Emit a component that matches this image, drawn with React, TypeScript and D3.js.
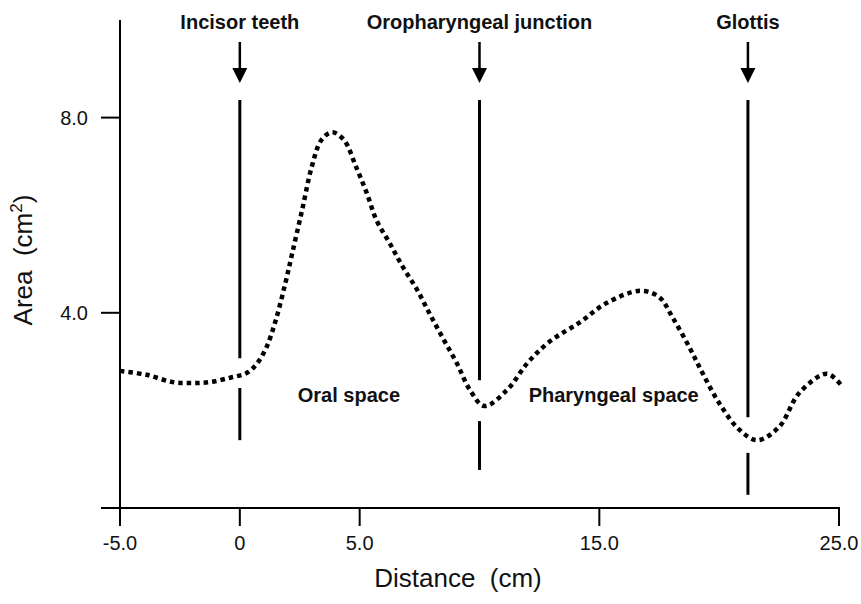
import * as d3 from 'd3';

// area function (distance in cm, area in cm^2)
const distance = [-5.0, -3.9, -2.8, -2.0, -1.25, -0.4, 0.3, 0.7, 1.1, 1.5, 1.9, 2.2, 2.6, 3.0, 3.4, 3.85, 4.35, 4.85, 5.3, 5.7, 6.25, 6.8, 7.4, 7.9, 8.45, 9.05, 9.6, 10.2, 11.15, 12.0, 12.9, 14.2, 15.3, 16.7, 17.5, 18.05, 18.75, 19.3, 20.0, 20.85, 21.6, 22.5, 23.35, 24.5, 25.15];
const area = [2.81, 2.73, 2.58, 2.56, 2.58, 2.67, 2.77, 2.95, 3.28, 3.85, 4.61, 5.25, 6.11, 6.99, 7.54, 7.7, 7.54, 6.99, 6.45, 5.9, 5.43, 4.94, 4.47, 4.0, 3.5, 2.97, 2.42, 2.09, 2.42, 2.97, 3.4, 3.81, 4.2, 4.45, 4.32, 3.91, 3.3, 2.77, 2.15, 1.6, 1.39, 1.66, 2.36, 2.75, 2.48];

const xTicks = [-5, 0, 5, 15, 25];
const xTickLabels = ['-5.0', '0', '5.0', '15.0', '25.0'];
const yTicks = [4, 8];
const yTickLabels = ['4.0', '8.0'];

// landmark lines: position and the two segments (broken where the curve passes)
const markerNames = ['Incisor teeth', 'Oropharyngeal junction', 'Glottis'];
const markerAt = [0, 10, 21.2];
const markerUpper = [[8.36, 3.07], [8.36, 2.62], [8.36, 1.86]];
const markerLower = [[2.46, 1.39], [1.78, 0.78], [1.13, 0.27]];

const regionNames = ['Oral space', 'Pharyngeal space'];
const regionAt = [4.55, 15.6];
const regionLevel = [2.17, 2.17];

const W = 861;
const H = 604;
const FONT = '"Liberation Sans", Arial, Helvetica, sans-serif';

export default function App() {
  const x = d3.scaleLinear().domain([-5, 25]).range([120, 839]);
  const y = d3.scaleLinear().domain([0, 10]).range([508, 20]);

  const points = distance.map((d, i) => [d, area[i]] as [number, number]);
  const line = d3.line<[number, number]>()
    .x(d => x(d[0]))
    .y(d => y(d[1]))
    .curve(d3.curveCatmullRom.alpha(0.5));

  const y0 = y(0);
  const axisW = 2;

  return (
    <svg
      width={W}
      height={H}
      style={{ position: 'absolute', left: 0, top: 0, background: '#fff', fontFamily: FONT }}
    >
      {/* axes */}
      <line x1={x(-5)} x2={x(-5)} y1={y(10)} y2={y0} stroke="#000" strokeWidth={axisW} />
      <line x1={x(-5) - 19} x2={x(25) + 1} y1={y0} y2={y0} stroke="#000" strokeWidth={axisW} />

      {xTicks.map((t, i) => (
        <g key={'xt' + t}>
          <line x1={x(t)} x2={x(t)} y1={y0} y2={y0 + 18} stroke="#000" strokeWidth={axisW} />
          <text x={x(t)} y={y0 + 42} textAnchor="middle" fontSize={20} fill="#111">
            {xTickLabels[i]}
          </text>
        </g>
      ))}

      {yTicks.map((t, i) => (
        <g key={'yt' + t}>
          <line x1={x(-5) - 19} x2={x(-5)} y1={y(t)} y2={y(t)} stroke="#000" strokeWidth={axisW} />
          <text x={x(-5) - 32} y={y(t) + 7} textAnchor="end" fontSize={20} fill="#111">
            {yTickLabels[i]}
          </text>
        </g>
      ))}

      <text x={458} y={587} textAnchor="middle" fontSize={26} fill="#111" style={{ whiteSpace: 'pre' }}>
        {'Distance  (cm)'}
      </text>
      <text
        transform="translate(32,260) rotate(-90)"
        textAnchor="middle"
        fontSize={26}
        fill="#111"
        style={{ whiteSpace: 'pre' }}
      >
        {'Area  (cm'}
        <tspan fontSize={17} dy={-10}>2</tspan>
        <tspan dy={10}>)</tspan>
      </text>

      {/* landmarks */}
      {markerNames.map((name, i) => {
        const mx = x(markerAt[i]);
        return (
          <g key={name}>
            <text x={mx} y={29} textAnchor="middle" fontSize={20} fontWeight="bold" fill="#111">
              {name}
            </text>
            <line x1={mx} x2={mx} y1={42} y2={70} stroke="#000" strokeWidth={2.5} />
            <path d={`M${mx - 7.5},68L${mx + 7.5},68L${mx},83Z`} fill="#000" />
            <line x1={mx} x2={mx} y1={y(markerUpper[i][0])} y2={y(markerUpper[i][1])} stroke="#000" strokeWidth={3} />
            <line x1={mx} x2={mx} y1={y(markerLower[i][0])} y2={y(markerLower[i][1])} stroke="#000" strokeWidth={3} />
          </g>
        );
      })}

      {regionNames.map((name, i) => (
        <text
          key={name}
          x={x(regionAt[i])}
          y={y(regionLevel[i])}
          textAnchor="middle"
          fontSize={20}
          fontWeight="bold"
          fill="#111"
        >
          {name}
        </text>
      ))}

      {/* area function, dotted */}
      <path
        d={line(points) ?? ''}
        fill="none"
        stroke="#000"
        strokeWidth={4.5}
        strokeDasharray="4.5 4"
      />
    </svg>
  );
}
